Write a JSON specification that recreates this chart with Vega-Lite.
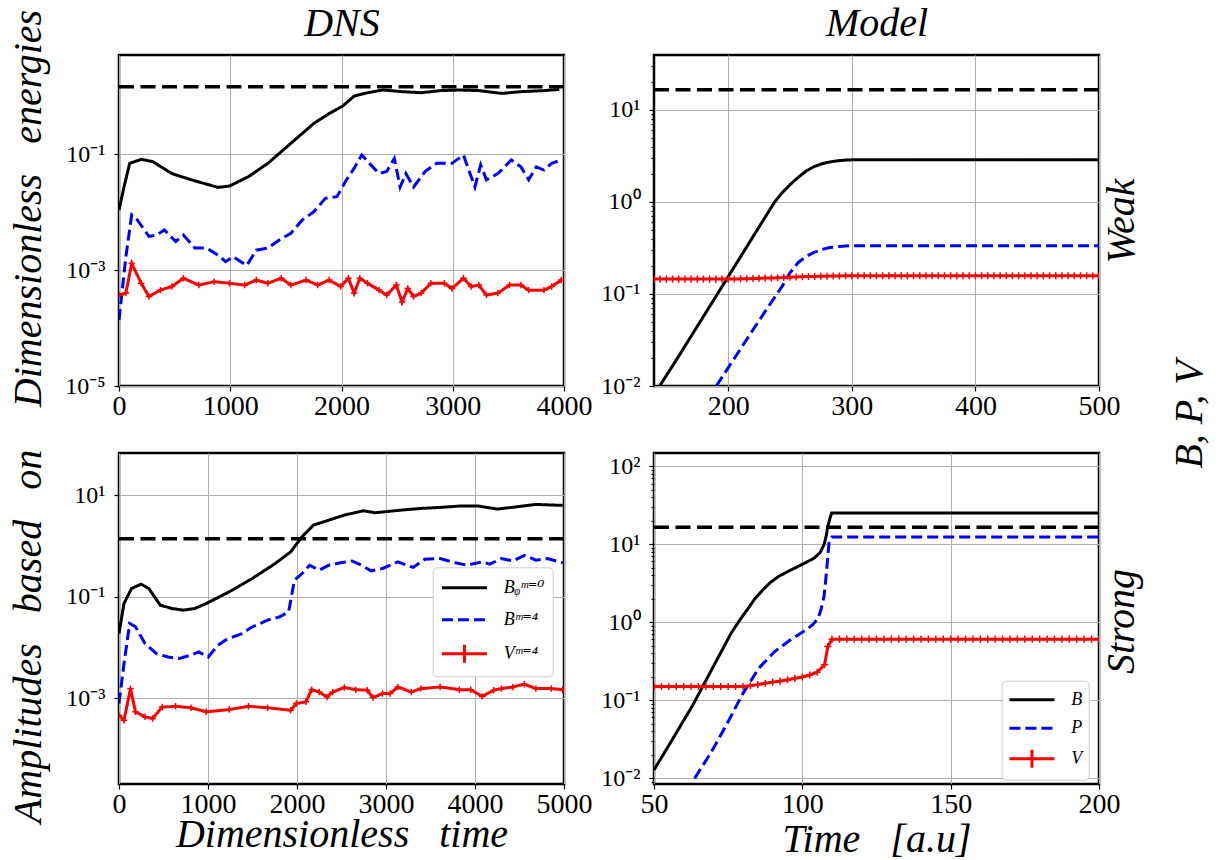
{
"$schema": "https://vega.github.io/schema/vega-lite/v6.json",
"autosize": {"type": "none"},
"padding": {"left": 119, "top": 55, "right": 1100, "bottom": 805},
"background": "white",
"datasets": {
"tl": [
{"t":0,"v":0.0108,"s":"B"},{"t":45,"v":0.027,"s":"B"},{"t":96,"v":0.069,"s":"B"},{"t":200,"v":0.081,"s":"B"},{"t":303,"v":0.074,"s":"B"},{"t":476,"v":0.046,"s":"B"},{"t":648,"v":0.036,"s":"B"},{"t":890,"v":0.0266,"s":"B"},{"t":993,"v":0.028,"s":"B"},{"t":1166,"v":0.041,"s":"B"},{"t":1338,"v":0.069,"s":"B"},{"t":1545,"v":0.153,"s":"B"},{"t":1752,"v":0.338,"s":"B"},{"t":1890,"v":0.5,"s":"B"},{"t":2010,"v":0.67,"s":"B"},{"t":2114,"v":1.0,"s":"B"},{"t":2234,"v":1.14,"s":"B"},{"t":2372,"v":1.27,"s":"B"},{"t":2544,"v":1.19,"s":"B"},{"t":2717,"v":1.14,"s":"B"},{"t":2889,"v":1.24,"s":"B"},{"t":3061,"v":1.27,"s":"B"},{"t":3234,"v":1.24,"s":"B"},{"t":3441,"v":1.11,"s":"B"},{"t":3613,"v":1.19,"s":"B"},{"t":3820,"v":1.24,"s":"B"},{"t":3958,"v":1.3,"s":"B"},
{"t":0,"v":0.000137,"s":"P"},{"t":62,"v":0.0017,"s":"P"},{"t":114,"v":0.0089,"s":"P"},{"t":165,"v":0.0073,"s":"P"},{"t":269,"v":0.0038,"s":"P"},{"t":338,"v":0.004,"s":"P"},{"t":407,"v":0.0049,"s":"P"},{"t":510,"v":0.0031,"s":"P"},{"t":579,"v":0.004,"s":"P"},{"t":683,"v":0.0024,"s":"P"},{"t":786,"v":0.0024,"s":"P"},{"t":890,"v":0.0018,"s":"P"},{"t":959,"v":0.0014,"s":"P"},{"t":1027,"v":0.0017,"s":"P"},{"t":1148,"v":0.0012,"s":"P"},{"t":1234,"v":0.0022,"s":"P"},{"t":1338,"v":0.0024,"s":"P"},{"t":1441,"v":0.0033,"s":"P"},{"t":1545,"v":0.0043,"s":"P"},{"t":1648,"v":0.0073,"s":"P"},{"t":1751,"v":0.0101,"s":"P"},{"t":1855,"v":0.0172,"s":"P"},{"t":1958,"v":0.0184,"s":"P"},{"t":2044,"v":0.0356,"s":"P"},{"t":2114,"v":0.057,"s":"P"},{"t":2182,"v":0.096,"s":"P"},{"t":2251,"v":0.069,"s":"P"},{"t":2338,"v":0.046,"s":"P"},{"t":2406,"v":0.05,"s":"P"},{"t":2475,"v":0.084,"s":"P"},{"t":2527,"v":0.027,"s":"P"},{"t":2579,"v":0.046,"s":"P"},{"t":2648,"v":0.027,"s":"P"},{"t":2751,"v":0.05,"s":"P"},{"t":2855,"v":0.069,"s":"P"},{"t":2993,"v":0.069,"s":"P"},{"t":3096,"v":0.096,"s":"P"},{"t":3199,"v":0.027,"s":"P"},{"t":3251,"v":0.065,"s":"P"},{"t":3303,"v":0.036,"s":"P"},{"t":3406,"v":0.046,"s":"P"},{"t":3527,"v":0.079,"s":"P"},{"t":3613,"v":0.06,"s":"P"},{"t":3682,"v":0.036,"s":"P"},{"t":3751,"v":0.06,"s":"P"},{"t":3820,"v":0.053,"s":"P"},{"t":3889,"v":0.069,"s":"P"},{"t":3975,"v":0.079,"s":"P"},
{"t":0,"v":0.00037,"s":"V"},{"t":62,"v":0.0004,"s":"V"},{"t":114,"v":0.0013,"s":"V"},{"t":200,"v":0.00059,"s":"V"},{"t":269,"v":0.00035,"s":"V"},{"t":372,"v":0.00045,"s":"V"},{"t":476,"v":0.00052,"s":"V"},{"t":579,"v":0.00072,"s":"V"},{"t":717,"v":0.00055,"s":"V"},{"t":855,"v":0.00063,"s":"V"},{"t":993,"v":0.00059,"s":"V"},{"t":1131,"v":0.00055,"s":"V"},{"t":1234,"v":0.00067,"s":"V"},{"t":1338,"v":0.00059,"s":"V"},{"t":1458,"v":0.00072,"s":"V"},{"t":1545,"v":0.00055,"s":"V"},{"t":1683,"v":0.00067,"s":"V"},{"t":1786,"v":0.00055,"s":"V"},{"t":1889,"v":0.00067,"s":"V"},{"t":1993,"v":0.00052,"s":"V"},{"t":2062,"v":0.00072,"s":"V"},{"t":2114,"v":0.0004,"s":"V"},{"t":2165,"v":0.00072,"s":"V"},{"t":2234,"v":0.00059,"s":"V"},{"t":2338,"v":0.00045,"s":"V"},{"t":2406,"v":0.00037,"s":"V"},{"t":2493,"v":0.00055,"s":"V"},{"t":2544,"v":0.00028,"s":"V"},{"t":2596,"v":0.00048,"s":"V"},{"t":2648,"v":0.00035,"s":"V"},{"t":2717,"v":0.0004,"s":"V"},{"t":2803,"v":0.00059,"s":"V"},{"t":2924,"v":0.00059,"s":"V"},{"t":2993,"v":0.00048,"s":"V"},{"t":3096,"v":0.00072,"s":"V"},{"t":3165,"v":0.00052,"s":"V"},{"t":3234,"v":0.00055,"s":"V"},{"t":3303,"v":0.00037,"s":"V"},{"t":3406,"v":0.0004,"s":"V"},{"t":3510,"v":0.00055,"s":"V"},{"t":3613,"v":0.00055,"s":"V"},{"t":3682,"v":0.00045,"s":"V"},{"t":3820,"v":0.00045,"s":"V"},{"t":3889,"v":0.00052,"s":"V"},{"t":3975,"v":0.00067,"s":"V"}
],
"bl": [
{"t":0,"v":0.0189,"s":"B"},{"t":56,"v":0.074,"s":"B"},{"t":141,"v":0.146,"s":"B"},{"t":249,"v":0.178,"s":"B"},{"t":335,"v":0.146,"s":"B"},{"t":464,"v":0.0685,"s":"B"},{"t":593,"v":0.059,"s":"B"},{"t":722,"v":0.0546,"s":"B"},{"t":852,"v":0.059,"s":"B"},{"t":981,"v":0.074,"s":"B"},{"t":1239,"v":0.126,"s":"B"},{"t":1497,"v":0.23,"s":"B"},{"t":1756,"v":0.455,"s":"B"},{"t":1928,"v":0.77,"s":"B"},{"t":2057,"v":1.53,"s":"B"},{"t":2186,"v":2.6,"s":"B"},{"t":2359,"v":3.26,"s":"B"},{"t":2531,"v":4.09,"s":"B"},{"t":2746,"v":4.98,"s":"B"},{"t":2876,"v":4.55,"s":"B"},{"t":3177,"v":5.14,"s":"B"},{"t":3392,"v":5.54,"s":"B"},{"t":3608,"v":5.8,"s":"B"},{"t":3823,"v":6.16,"s":"B"},{"t":4038,"v":6.16,"s":"B"},{"t":4253,"v":5.37,"s":"B"},{"t":4469,"v":5.97,"s":"B"},{"t":4684,"v":6.64,"s":"B"},{"t":4985,"v":6.35,"s":"B"},
{"t":0,"v":0.00079,"s":"P"},{"t":56,"v":0.0048,"s":"P"},{"t":120,"v":0.0298,"s":"P"},{"t":185,"v":0.0257,"s":"P"},{"t":292,"v":0.012,"s":"P"},{"t":421,"v":0.0076,"s":"P"},{"t":550,"v":0.0065,"s":"P"},{"t":680,"v":0.0061,"s":"P"},{"t":809,"v":0.0071,"s":"P"},{"t":895,"v":0.0082,"s":"P"},{"t":1003,"v":0.0065,"s":"P"},{"t":1110,"v":0.0111,"s":"P"},{"t":1196,"v":0.014,"s":"P"},{"t":1282,"v":0.0162,"s":"P"},{"t":1368,"v":0.0183,"s":"P"},{"t":1497,"v":0.0256,"s":"P"},{"t":1669,"v":0.0347,"s":"P"},{"t":1799,"v":0.04,"s":"P"},{"t":1906,"v":0.0506,"s":"P"},{"t":1971,"v":0.213,"s":"P"},{"t":2057,"v":0.288,"s":"P"},{"t":2143,"v":0.42,"s":"P"},{"t":2250,"v":0.336,"s":"P"},{"t":2359,"v":0.42,"s":"P"},{"t":2488,"v":0.47,"s":"P"},{"t":2617,"v":0.51,"s":"P"},{"t":2724,"v":0.42,"s":"P"},{"t":2832,"v":0.326,"s":"P"},{"t":2961,"v":0.363,"s":"P"},{"t":3133,"v":0.49,"s":"P"},{"t":3305,"v":0.38,"s":"P"},{"t":3435,"v":0.55,"s":"P"},{"t":3608,"v":0.57,"s":"P"},{"t":3780,"v":0.47,"s":"P"},{"t":3909,"v":0.42,"s":"P"},{"t":4081,"v":0.49,"s":"P"},{"t":4167,"v":0.44,"s":"P"},{"t":4296,"v":0.57,"s":"P"},{"t":4425,"v":0.51,"s":"P"},{"t":4555,"v":0.66,"s":"P"},{"t":4684,"v":0.53,"s":"P"},{"t":4813,"v":0.57,"s":"P"},{"t":4985,"v":0.47,"s":"P"},
{"t":0,"v":0.00046,"s":"V"},{"t":56,"v":0.00037,"s":"V"},{"t":129,"v":0.00155,"s":"V"},{"t":185,"v":0.00054,"s":"V"},{"t":292,"v":0.00043,"s":"V"},{"t":378,"v":0.0004,"s":"V"},{"t":485,"v":0.00067,"s":"V"},{"t":636,"v":0.000695,"s":"V"},{"t":809,"v":0.00065,"s":"V"},{"t":981,"v":0.00054,"s":"V"},{"t":1239,"v":0.0006,"s":"V"},{"t":1454,"v":0.000695,"s":"V"},{"t":1669,"v":0.00065,"s":"V"},{"t":1928,"v":0.00058,"s":"V"},{"t":1993,"v":0.00079,"s":"V"},{"t":2100,"v":0.00085,"s":"V"},{"t":2165,"v":0.00148,"s":"V"},{"t":2250,"v":0.00133,"s":"V"},{"t":2337,"v":0.00106,"s":"V"},{"t":2402,"v":0.00133,"s":"V"},{"t":2531,"v":0.00163,"s":"V"},{"t":2660,"v":0.00148,"s":"V"},{"t":2789,"v":0.00144,"s":"V"},{"t":2854,"v":0.00103,"s":"V"},{"t":2961,"v":0.00124,"s":"V"},{"t":3047,"v":0.00124,"s":"V"},{"t":3133,"v":0.00167,"s":"V"},{"t":3284,"v":0.00133,"s":"V"},{"t":3392,"v":0.00155,"s":"V"},{"t":3608,"v":0.00167,"s":"V"},{"t":3823,"v":0.00148,"s":"V"},{"t":3952,"v":0.00148,"s":"V"},{"t":4081,"v":0.00109,"s":"V"},{"t":4210,"v":0.00144,"s":"V"},{"t":4296,"v":0.00155,"s":"V"},{"t":4425,"v":0.00167,"s":"V"},{"t":4555,"v":0.00189,"s":"V"},{"t":4684,"v":0.00155,"s":"V"},{"t":4856,"v":0.00155,"s":"V"},{"t":4985,"v":0.00148,"s":"V"}
],
"tr": [
{"t":145,"v":0.0102,"s":"B"},{"t":160,"v":0.0211,"s":"B"},{"t":180,"v":0.057,"s":"B"},{"t":200,"v":0.154,"s":"B"},{"t":220,"v":0.417,"s":"B"},{"t":237.6,"v":1.0,"s":"B"},{"t":244,"v":1.27,"s":"B"},{"t":250.3,"v":1.55,"s":"B"},{"t":256.7,"v":1.85,"s":"B"},{"t":263.1,"v":2.17,"s":"B"},{"t":269.5,"v":2.42,"s":"B"},{"t":275.9,"v":2.6,"s":"B"},{"t":282.2,"v":2.72,"s":"B"},{"t":288.6,"v":2.8,"s":"B"},{"t":295,"v":2.85,"s":"B"},{"t":301.4,"v":2.87,"s":"B"},{"t":350,"v":2.88,"s":"B"},{"t":500,"v":2.88,"s":"B"},
{"t":190.4,"v":0.01,"s":"P"},{"t":218.4,"v":0.0377,"s":"P"},{"t":231,"v":0.068,"s":"P"},{"t":244,"v":0.123,"s":"P"},{"t":250,"v":0.17,"s":"P"},{"t":256.7,"v":0.22,"s":"P"},{"t":263,"v":0.255,"s":"P"},{"t":269.5,"v":0.283,"s":"P"},{"t":276,"v":0.305,"s":"P"},{"t":282.2,"v":0.32,"s":"P"},{"t":290,"v":0.328,"s":"P"},{"t":298.2,"v":0.334,"s":"P"},{"t":350,"v":0.334,"s":"P"},{"t":500,"v":0.334,"s":"P"},
{"t":140,"v":0.145,"s":"V"},{"t":145,"v":0.145,"s":"V"},{"t":150,"v":0.145,"s":"V"},{"t":155,"v":0.145,"s":"V"},{"t":160,"v":0.145,"s":"V"},{"t":165,"v":0.145,"s":"V"},{"t":170,"v":0.145,"s":"V"},{"t":175,"v":0.145,"s":"V"},{"t":180,"v":0.145,"s":"V"},{"t":185,"v":0.145,"s":"V"},{"t":190,"v":0.145,"s":"V"},{"t":195,"v":0.145,"s":"V"},{"t":200,"v":0.145,"s":"V"},{"t":205,"v":0.1455,"s":"V"},{"t":210,"v":0.146,"s":"V"},{"t":215,"v":0.1465,"s":"V"},{"t":220,"v":0.147,"s":"V"},{"t":225,"v":0.148,"s":"V"},{"t":230,"v":0.149,"s":"V"},{"t":235,"v":0.149,"s":"V"},{"t":240,"v":0.15,"s":"V"},{"t":245,"v":0.151,"s":"V"},{"t":250,"v":0.152,"s":"V"},{"t":255,"v":0.153,"s":"V"},{"t":260,"v":0.154,"s":"V"},{"t":265,"v":0.155,"s":"V"},{"t":270,"v":0.155,"s":"V"},{"t":275,"v":0.156,"s":"V"},{"t":280,"v":0.156,"s":"V"},{"t":285,"v":0.157,"s":"V"},{"t":290,"v":0.157,"s":"V"},{"t":295,"v":0.158,"s":"V"},{"t":300,"v":0.158,"s":"V"},{"t":305,"v":0.158,"s":"V"},{"t":310,"v":0.158,"s":"V"},{"t":315,"v":0.158,"s":"V"},{"t":320,"v":0.158,"s":"V"},{"t":325,"v":0.158,"s":"V"},{"t":330,"v":0.158,"s":"V"},{"t":335,"v":0.158,"s":"V"},{"t":340,"v":0.158,"s":"V"},{"t":345,"v":0.158,"s":"V"},{"t":350,"v":0.158,"s":"V"},{"t":355,"v":0.158,"s":"V"},{"t":360,"v":0.158,"s":"V"},{"t":365,"v":0.158,"s":"V"},{"t":370,"v":0.158,"s":"V"},{"t":375,"v":0.158,"s":"V"},{"t":380,"v":0.158,"s":"V"},{"t":385,"v":0.158,"s":"V"},{"t":390,"v":0.158,"s":"V"},{"t":395,"v":0.158,"s":"V"},{"t":400,"v":0.158,"s":"V"},{"t":405,"v":0.158,"s":"V"},{"t":410,"v":0.158,"s":"V"},{"t":415,"v":0.158,"s":"V"},{"t":420,"v":0.158,"s":"V"},{"t":425,"v":0.158,"s":"V"},{"t":430,"v":0.158,"s":"V"},{"t":435,"v":0.158,"s":"V"},{"t":440,"v":0.158,"s":"V"},{"t":445,"v":0.158,"s":"V"},{"t":450,"v":0.158,"s":"V"},{"t":455,"v":0.158,"s":"V"},{"t":460,"v":0.158,"s":"V"},{"t":465,"v":0.158,"s":"V"},{"t":470,"v":0.158,"s":"V"},{"t":475,"v":0.158,"s":"V"},{"t":480,"v":0.158,"s":"V"},{"t":485,"v":0.158,"s":"V"},{"t":490,"v":0.158,"s":"V"},{"t":495,"v":0.158,"s":"V"},{"t":500,"v":0.158,"s":"V"}
],
"br": [
{"t":50,"v":0.0127,"s":"B"},{"t":56.1,"v":0.0308,"s":"B"},{"t":62.8,"v":0.0826,"s":"B"},{"t":69.4,"v":0.244,"s":"B"},{"t":76,"v":0.722,"s":"B"},{"t":78.8,"v":1.05,"s":"B"},{"t":81.4,"v":1.44,"s":"B"},{"t":84,"v":2.0,"s":"B"},{"t":86.7,"v":2.6,"s":"B"},{"t":89.3,"v":3.25,"s":"B"},{"t":92,"v":3.86,"s":"B"},{"t":95.3,"v":4.5,"s":"B"},{"t":98.6,"v":5.19,"s":"B"},{"t":101.3,"v":5.85,"s":"B"},{"t":104,"v":6.64,"s":"B"},{"t":106,"v":7.8,"s":"B"},{"t":107.3,"v":9.86,"s":"B"},{"t":108,"v":12.5,"s":"B"},{"t":108.6,"v":16.9,"s":"B"},{"t":109.3,"v":21.5,"s":"B"},{"t":109.9,"v":25.1,"s":"B"},{"t":150,"v":25.1,"s":"B"},{"t":200,"v":25.1,"s":"B"},
{"t":63.7,"v":0.0099,"s":"P"},{"t":69.4,"v":0.0218,"s":"P"},{"t":74.7,"v":0.0504,"s":"P"},{"t":80,"v":0.122,"s":"P"},{"t":85.3,"v":0.256,"s":"P"},{"t":90.7,"v":0.42,"s":"P"},{"t":96,"v":0.593,"s":"P"},{"t":101.3,"v":0.797,"s":"P"},{"t":103.5,"v":0.93,"s":"P"},{"t":105.3,"v":1.12,"s":"P"},{"t":106.3,"v":1.45,"s":"P"},{"t":107.3,"v":2.14,"s":"P"},{"t":107.8,"v":3.2,"s":"P"},{"t":108.2,"v":4.7,"s":"P"},{"t":108.6,"v":7.0,"s":"P"},{"t":109,"v":10.4,"s":"P"},{"t":109.4,"v":11.5,"s":"P"},{"t":109.9,"v":12.4,"s":"P"},{"t":150,"v":12.4,"s":"P"},{"t":200,"v":12.4,"s":"P"},
{"t":50,"v":0.149,"s":"V"},{"t":52.5,"v":0.149,"s":"V"},{"t":55,"v":0.149,"s":"V"},{"t":57.5,"v":0.149,"s":"V"},{"t":60,"v":0.149,"s":"V"},{"t":62.5,"v":0.149,"s":"V"},{"t":65,"v":0.149,"s":"V"},{"t":67.5,"v":0.149,"s":"V"},{"t":70,"v":0.149,"s":"V"},{"t":72.5,"v":0.149,"s":"V"},{"t":75,"v":0.149,"s":"V"},{"t":77.5,"v":0.149,"s":"V"},{"t":80,"v":0.149,"s":"V"},{"t":82.5,"v":0.153,"s":"V"},{"t":85,"v":0.158,"s":"V"},{"t":87.5,"v":0.164,"s":"V"},{"t":90,"v":0.17,"s":"V"},{"t":92.5,"v":0.175,"s":"V"},{"t":95,"v":0.182,"s":"V"},{"t":97.5,"v":0.19,"s":"V"},{"t":100,"v":0.198,"s":"V"},{"t":102.5,"v":0.21,"s":"V"},{"t":105,"v":0.228,"s":"V"},{"t":107.5,"v":0.285,"s":"V"},{"t":108.6,"v":0.486,"s":"V"},{"t":110,"v":0.605,"s":"V"},{"t":112.5,"v":0.605,"s":"V"},{"t":115,"v":0.605,"s":"V"},{"t":117.5,"v":0.605,"s":"V"},{"t":120,"v":0.605,"s":"V"},{"t":122.5,"v":0.605,"s":"V"},{"t":125,"v":0.605,"s":"V"},{"t":127.5,"v":0.605,"s":"V"},{"t":130,"v":0.605,"s":"V"},{"t":132.5,"v":0.605,"s":"V"},{"t":135,"v":0.605,"s":"V"},{"t":137.5,"v":0.605,"s":"V"},{"t":140,"v":0.605,"s":"V"},{"t":142.5,"v":0.605,"s":"V"},{"t":145,"v":0.605,"s":"V"},{"t":147.5,"v":0.605,"s":"V"},{"t":150,"v":0.605,"s":"V"},{"t":152.5,"v":0.605,"s":"V"},{"t":155,"v":0.605,"s":"V"},{"t":157.5,"v":0.605,"s":"V"},{"t":160,"v":0.605,"s":"V"},{"t":162.5,"v":0.605,"s":"V"},{"t":165,"v":0.605,"s":"V"},{"t":167.5,"v":0.605,"s":"V"},{"t":170,"v":0.605,"s":"V"},{"t":172.5,"v":0.605,"s":"V"},{"t":175,"v":0.605,"s":"V"},{"t":177.5,"v":0.605,"s":"V"},{"t":180,"v":0.605,"s":"V"},{"t":182.5,"v":0.605,"s":"V"},{"t":185,"v":0.605,"s":"V"},{"t":187.5,"v":0.605,"s":"V"},{"t":190,"v":0.605,"s":"V"},{"t":192.5,"v":0.605,"s":"V"},{"t":195,"v":0.605,"s":"V"},{"t":197.5,"v":0.605,"s":"V"},{"t":200,"v":0.605,"s":"V"}
]
},
"columns": 2,
"spacing": {"row": 67, "column": 90},
"bounds": "flush",
"resolve": {"scale": {"color": "independent", "strokeDash": "independent"}, "legend": {"color": "independent", "strokeDash": "independent"}},
"concat": [
{
"width": 445, "height": 331,
"resolve": {"scale": {"x": "independent", "y": "independent"}},
"layer": [
{"data": {"name": "tl"},
 "mark": {"type": "line", "strokeWidth": 3, "clip": true},
 "encoding": {
  "x": {"field": "t", "type": "quantitative", "scale": {"domain": [0, 4000], "nice": false, "zero": false}, "axis": {"orient": "bottom", "values": [0,1000,2000,3000,4000], "format": "d", "title": null}},
  "y": {"field": "v", "type": "quantitative", "scale": {"type": "log", "domain": [0.00001, 5.1], "nice": false}, "axis": {"orient": "left", "values": [0.00001, 0.001, 0.1], "labelExpr": "'10' + (round(log(datum.value)/LN10) < 0 ? '⁻' : '') + ['⁰','¹','²','³','⁴','⁵'][abs(round(log(datum.value)/LN10))]", "title": "Dimensionless\u00a0\u00a0\u00a0energies", "titleX": -79, "titleY": 153, "titleAngle": 270, "titleAlign": "center", "titleBaseline": "alphabetic"}},
  "color": {"field": "s", "type": "nominal", "scale": {"domain": ["B","P","V"], "range": ["#000000","#0000ff","#ff0000"]}, "legend": null},
  "strokeDash": {"field": "s", "type": "nominal", "scale": {"domain": ["B","P","V"], "range": [[1,0],[11,5],[1,0]]}, "legend": null}
 }},
{"data": {"name": "tl"}, "transform": [{"filter": "datum.s === 'V'"}],
 "mark": {"type": "point", "shape": "M-1,0H1M0,-1V1", "size": 42, "filled": false, "color": "#ff0000", "strokeWidth": 1.5, "opacity": 1, "clip": true},
 "encoding": {
  "x": {"field": "t", "type": "quantitative", "scale": {"domain": [0, 4000], "nice": false, "zero": false}, "axis": null},
  "y": {"field": "v", "type": "quantitative", "scale": {"type": "log", "domain": [0.00001, 5.1], "nice": false}, "axis": null}
 }},
{"data": {"values": [{"h": 1.445, "a": 0, "b": 4000}]},
 "mark": {"type": "rule", "strokeDash": [15, 6.5], "strokeWidth": 3.5, "color": "#000000", "clip": true},
 "encoding": {
  "x": {"field": "a", "type": "quantitative", "scale": {"domain": [0, 4000], "nice": false, "zero": false}, "axis": {"orient": "top", "title": "DNS", "labels": false, "ticks": false, "grid": false, "domain": false, "titleY": -20, "titleBaseline": "alphabetic"}},
  "x2": {"field": "b"},
  "y": {"field": "h", "type": "quantitative", "scale": {"type": "log", "domain": [0.00001, 5.1], "nice": false}, "axis": null}
 }}
]
},
{
"width": 445, "height": 331,
"resolve": {"scale": {"x": "independent", "y": "independent"}},
"layer": [
{"data": {"name": "tr"},
 "mark": {"type": "line", "strokeWidth": 3, "clip": true},
 "encoding": {
  "x": {"field": "t", "type": "quantitative", "scale": {"domain": [140, 500], "nice": false, "zero": false}, "axis": {"orient": "bottom", "values": [200,300,400,500], "format": "d", "title": null}},
  "y": {"field": "v", "type": "quantitative", "scale": {"type": "log", "domain": [0.01, 39.5], "nice": false}, "axis": {"orient": "left", "values": [0.01,0.02,0.03,0.04,0.05,0.06,0.07,0.08,0.09,0.1,0.2,0.3,0.4,0.5,0.6,0.7,0.8,0.9,1,2,3,4,5,6,7,8,9,10,20,30], "labelExpr": "abs(log(datum.value)/LN10 - round(log(datum.value)/LN10)) < 0.001 ? '10' + (round(log(datum.value)/LN10) < 0 ? '⁻' : '') + ['⁰','¹','²','³','⁴','⁵'][abs(round(log(datum.value)/LN10))] : ''", "tickSize": {"condition": {"test": "abs(log(datum.value)/LN10 - round(log(datum.value)/LN10)) < 0.001", "value": 5}, "value": 3}, "gridOpacity": {"condition": {"test": "abs(log(datum.value)/LN10 - round(log(datum.value)/LN10)) < 0.001", "value": 1}, "value": 0}, "title": null}},
  "color": {"field": "s", "type": "nominal", "scale": {"domain": ["B","P","V"], "range": ["#000000","#0000ff","#ff0000"]}, "legend": null},
  "strokeDash": {"field": "s", "type": "nominal", "scale": {"domain": ["B","P","V"], "range": [[1,0],[11,5],[1,0]]}, "legend": null}
 }},
{"data": {"name": "tr"}, "transform": [{"filter": "datum.s === 'V'"}],
 "mark": {"type": "point", "shape": "M-1,0H1M0,-1V1", "size": 50, "filled": false, "color": "#ff0000", "strokeWidth": 1.5, "opacity": 1, "clip": true},
 "encoding": {
  "x": {"field": "t", "type": "quantitative", "scale": {"domain": [140, 500], "nice": false, "zero": false}, "axis": null},
  "y": {"field": "v", "type": "quantitative", "scale": {"type": "log", "domain": [0.01, 39.5], "nice": false}, "axis": null}
 }},
{"data": {"values": [{"h": 16.6, "a": 140, "b": 500}]},
 "mark": {"type": "rule", "strokeDash": [15, 6.5], "strokeWidth": 3.5, "color": "#000000", "clip": true},
 "encoding": {
  "x": {"field": "a", "type": "quantitative", "scale": {"domain": [140, 500], "nice": false, "zero": false}, "axis": {"orient": "top", "title": "Model", "labels": false, "ticks": false, "grid": false, "domain": false, "titleY": -20, "titleBaseline": "alphabetic"}},
  "x2": {"field": "b"},
  "y": {"field": "h", "type": "quantitative", "scale": {"type": "log", "domain": [0.01, 39.5], "nice": false}, "axis": {"orient": "right", "title": "Weak", "labels": false, "ticks": false, "grid": false, "domain": false, "titleX": 34, "titleY": 165.5, "titleAngle": 270, "titleAlign": "center", "titleBaseline": "alphabetic"}}
 }}
]
},
{
"width": 445, "height": 331,
"resolve": {"scale": {"x": "independent", "y": "independent"}},
"layer": [
{"data": {"name": "bl"},
 "mark": {"type": "line", "strokeWidth": 3, "clip": true},
 "encoding": {
  "x": {"field": "t", "type": "quantitative", "scale": {"domain": [0, 5000], "nice": false, "zero": false}, "axis": {"orient": "bottom", "values": [0,1000,2000,3000,4000,5000], "format": "d", "title": "Dimensionless\u00a0\u00a0\u00a0time", "titleY": 62, "titleBaseline": "alphabetic"}},
  "y": {"field": "v", "type": "quantitative", "scale": {"type": "log", "domain": [0.0000204, 68.6], "nice": false}, "axis": {"orient": "left", "values": [0.001, 0.1, 10], "labelExpr": "'10' + (round(log(datum.value)/LN10) < 0 ? '⁻' : '') + ['⁰','¹','²','³','⁴','⁵'][abs(round(log(datum.value)/LN10))]", "title": "Amplitudes\u00a0\u00a0\u00a0based\u00a0\u00a0\u00a0on", "titleX": -79, "titleY": 183, "titleAngle": 270, "titleAlign": "center", "titleBaseline": "alphabetic"}},
  "color": {"field": "s", "type": "nominal", "scale": {"domain": ["B","P","V"], "range": ["#000000","#0000ff","#ff0000"]}, "legend": {"orient": "none", "legendX": 313.7, "legendY": 114.3, "title": null, "labelExpr": "datum.label === 'B' ? 'Bᵩᵐ⁼⁰' : datum.label === 'P' ? 'Bᵐ⁼⁴' : 'Vᵐ⁼⁴'", "padding": 7.5, "rowPadding": 10, "labelOffset": 37.5, "encode": {"symbols": {"update": {"shape": {"signal": "datum.value === 'V' ? 'M-1,0H3M1,-0.8V0.8' : 'M-1,0H3'"}}}}}},
  "strokeDash": {"field": "s", "type": "nominal", "scale": {"domain": ["B","P","V"], "range": [[1,0],[11,5],[1,0]]}, "legend": {"orient": "none", "legendX": 313.7, "legendY": 114.3, "title": null, "labelExpr": "datum.label === 'B' ? 'Bᵩᵐ⁼⁰' : datum.label === 'P' ? 'Bᵐ⁼⁴' : 'Vᵐ⁼⁴'", "padding": 7.5, "rowPadding": 10, "labelOffset": 37.5, "encode": {"symbols": {"update": {"shape": {"signal": "datum.value === 'V' ? 'M-1,0H3M1,-0.8V0.8' : 'M-1,0H3'"}}}}}}
 }},
{"data": {"name": "bl"}, "transform": [{"filter": "datum.s === 'V'"}],
 "mark": {"type": "point", "shape": "M-1,0H1M0,-1V1", "size": 42, "filled": false, "color": "#ff0000", "strokeWidth": 1.5, "opacity": 1, "clip": true},
 "encoding": {
  "x": {"field": "t", "type": "quantitative", "scale": {"domain": [0, 5000], "nice": false, "zero": false}, "axis": null},
  "y": {"field": "v", "type": "quantitative", "scale": {"type": "log", "domain": [0.0000204, 68.6], "nice": false}, "axis": null}
 }},
{"data": {"values": [{"h": 1.40, "a": 0, "b": 5000}]},
 "mark": {"type": "rule", "strokeDash": [15, 6.5], "strokeWidth": 3.5, "color": "#000000", "clip": true},
 "encoding": {
  "x": {"field": "a", "type": "quantitative", "scale": {"domain": [0, 5000], "nice": false, "zero": false}, "axis": null},
  "x2": {"field": "b"},
  "y": {"field": "h", "type": "quantitative", "scale": {"type": "log", "domain": [0.0000204, 68.6], "nice": false}, "axis": null}
 }}
]
},
{
"width": 445, "height": 331,
"resolve": {"scale": {"x": "independent", "y": "independent"}},
"layer": [
{"data": {"name": "br"},
 "mark": {"type": "line", "strokeWidth": 3, "clip": true},
 "encoding": {
  "x": {"field": "t", "type": "quantitative", "scale": {"domain": [50, 200], "nice": false, "zero": false}, "axis": {"orient": "bottom", "values": [50,100,150,200], "format": "d", "title": "Time\u00a0\u00a0\u00a0[a.u]", "titleY": 67, "titleBaseline": "alphabetic"}},
  "y": {"field": "v", "type": "quantitative", "scale": {"type": "log", "domain": [0.00838, 148], "nice": false}, "axis": {"orient": "left", "values": [0.009,0.01,0.02,0.03,0.04,0.05,0.06,0.07,0.08,0.09,0.1,0.2,0.3,0.4,0.5,0.6,0.7,0.8,0.9,1,2,3,4,5,6,7,8,9,10,20,30,40,50,60,70,80,90,100], "labelExpr": "abs(log(datum.value)/LN10 - round(log(datum.value)/LN10)) < 0.001 ? '10' + (round(log(datum.value)/LN10) < 0 ? '⁻' : '') + ['⁰','¹','²','³','⁴','⁵'][abs(round(log(datum.value)/LN10))] : ''", "tickSize": {"condition": {"test": "abs(log(datum.value)/LN10 - round(log(datum.value)/LN10)) < 0.001", "value": 5}, "value": 3}, "gridOpacity": {"condition": {"test": "abs(log(datum.value)/LN10 - round(log(datum.value)/LN10)) < 0.001", "value": 1}, "value": 0}, "title": null}},
  "color": {"field": "s", "type": "nominal", "scale": {"domain": ["B","P","V"], "range": ["#000000","#0000ff","#ff0000"]}, "legend": {"orient": "none", "legendX": 347.7, "legendY": 227.7, "title": null, "padding": 6, "rowPadding": 6.5, "labelOffset": 37.5, "encode": {"symbols": {"update": {"shape": {"signal": "datum.value === 'V' ? 'M-1,0H3M1,-0.8V0.8' : 'M-1,0H3'"}}}}}},
  "strokeDash": {"field": "s", "type": "nominal", "scale": {"domain": ["B","P","V"], "range": [[1,0],[11,5],[1,0]]}, "legend": {"orient": "none", "legendX": 347.7, "legendY": 227.7, "title": null, "padding": 6, "rowPadding": 6.5, "labelOffset": 37.5, "encode": {"symbols": {"update": {"shape": {"signal": "datum.value === 'V' ? 'M-1,0H3M1,-0.8V0.8' : 'M-1,0H3'"}}}}}}
 }},
{"data": {"name": "br"}, "transform": [{"filter": "datum.s === 'V'"}],
 "mark": {"type": "point", "shape": "M-1,0H1M0,-1V1", "size": 50, "filled": false, "color": "#ff0000", "strokeWidth": 1.5, "opacity": 1, "clip": true},
 "encoding": {
  "x": {"field": "t", "type": "quantitative", "scale": {"domain": [50, 200], "nice": false, "zero": false}, "axis": null},
  "y": {"field": "v", "type": "quantitative", "scale": {"type": "log", "domain": [0.00838, 148], "nice": false}, "axis": null}
 }},
{"data": {"values": [{"h": 16.5, "a": 50, "b": 200}]},
 "mark": {"type": "rule", "strokeDash": [15, 6.5], "strokeWidth": 3.5, "color": "#000000", "clip": true},
 "encoding": {
  "x": {"field": "a", "type": "quantitative", "scale": {"domain": [50, 200], "nice": false, "zero": false}, "axis": {"orient": "top", "title": "B, P, V", "labels": false, "ticks": false, "grid": false, "domain": false, "titleX": 547.5, "titleY": -39, "titleAngle": 270, "titleAlign": "center", "titleBaseline": "alphabetic"}},
  "x2": {"field": "b"},
  "y": {"field": "h", "type": "quantitative", "scale": {"type": "log", "domain": [0.00838, 148], "nice": false}, "axis": {"orient": "right", "title": "Strong", "labels": false, "ticks": false, "grid": false, "domain": false, "titleX": 34, "titleY": 168, "titleAngle": 270, "titleAlign": "center", "titleBaseline": "alphabetic"}}
 }}
]
}
],
"config": {
 "view": {"stroke": "#000000", "strokeWidth": 2.5},
 "font": "Liberation Serif",
 "axis": {"domain": false, "grid": true, "gridColor": "#b0b0b0", "gridWidth": 1, "tickColor": "#000000", "tickWidth": 1.2, "tickSize": 5, "labelFont": "Liberation Serif", "labelColor": "#000000", "labelFlush": false, "labelOverlap": false, "labelBound": false, "titleFont": "Liberation Serif", "titleFontStyle": "italic", "titleFontWeight": "normal", "titleFontSize": 40, "titleColor": "#000000"},
 "axisX": {"labelFontSize": 28, "labelPadding": 1},
 "axisY": {"labelFontSize": 24, "labelPadding": 9},
 "legend": {"labelFont": "Liberation Serif, DejaVu Serif", "labelFontSize": 18, "labelFontStyle": "italic", "labelColor": "#000000", "fillColor": "#ffffff", "strokeColor": "#cccccc", "cornerRadius": 4, "symbolStrokeWidth": 3, "symbolSize": 506, "labelLimit": 300}
}
}
